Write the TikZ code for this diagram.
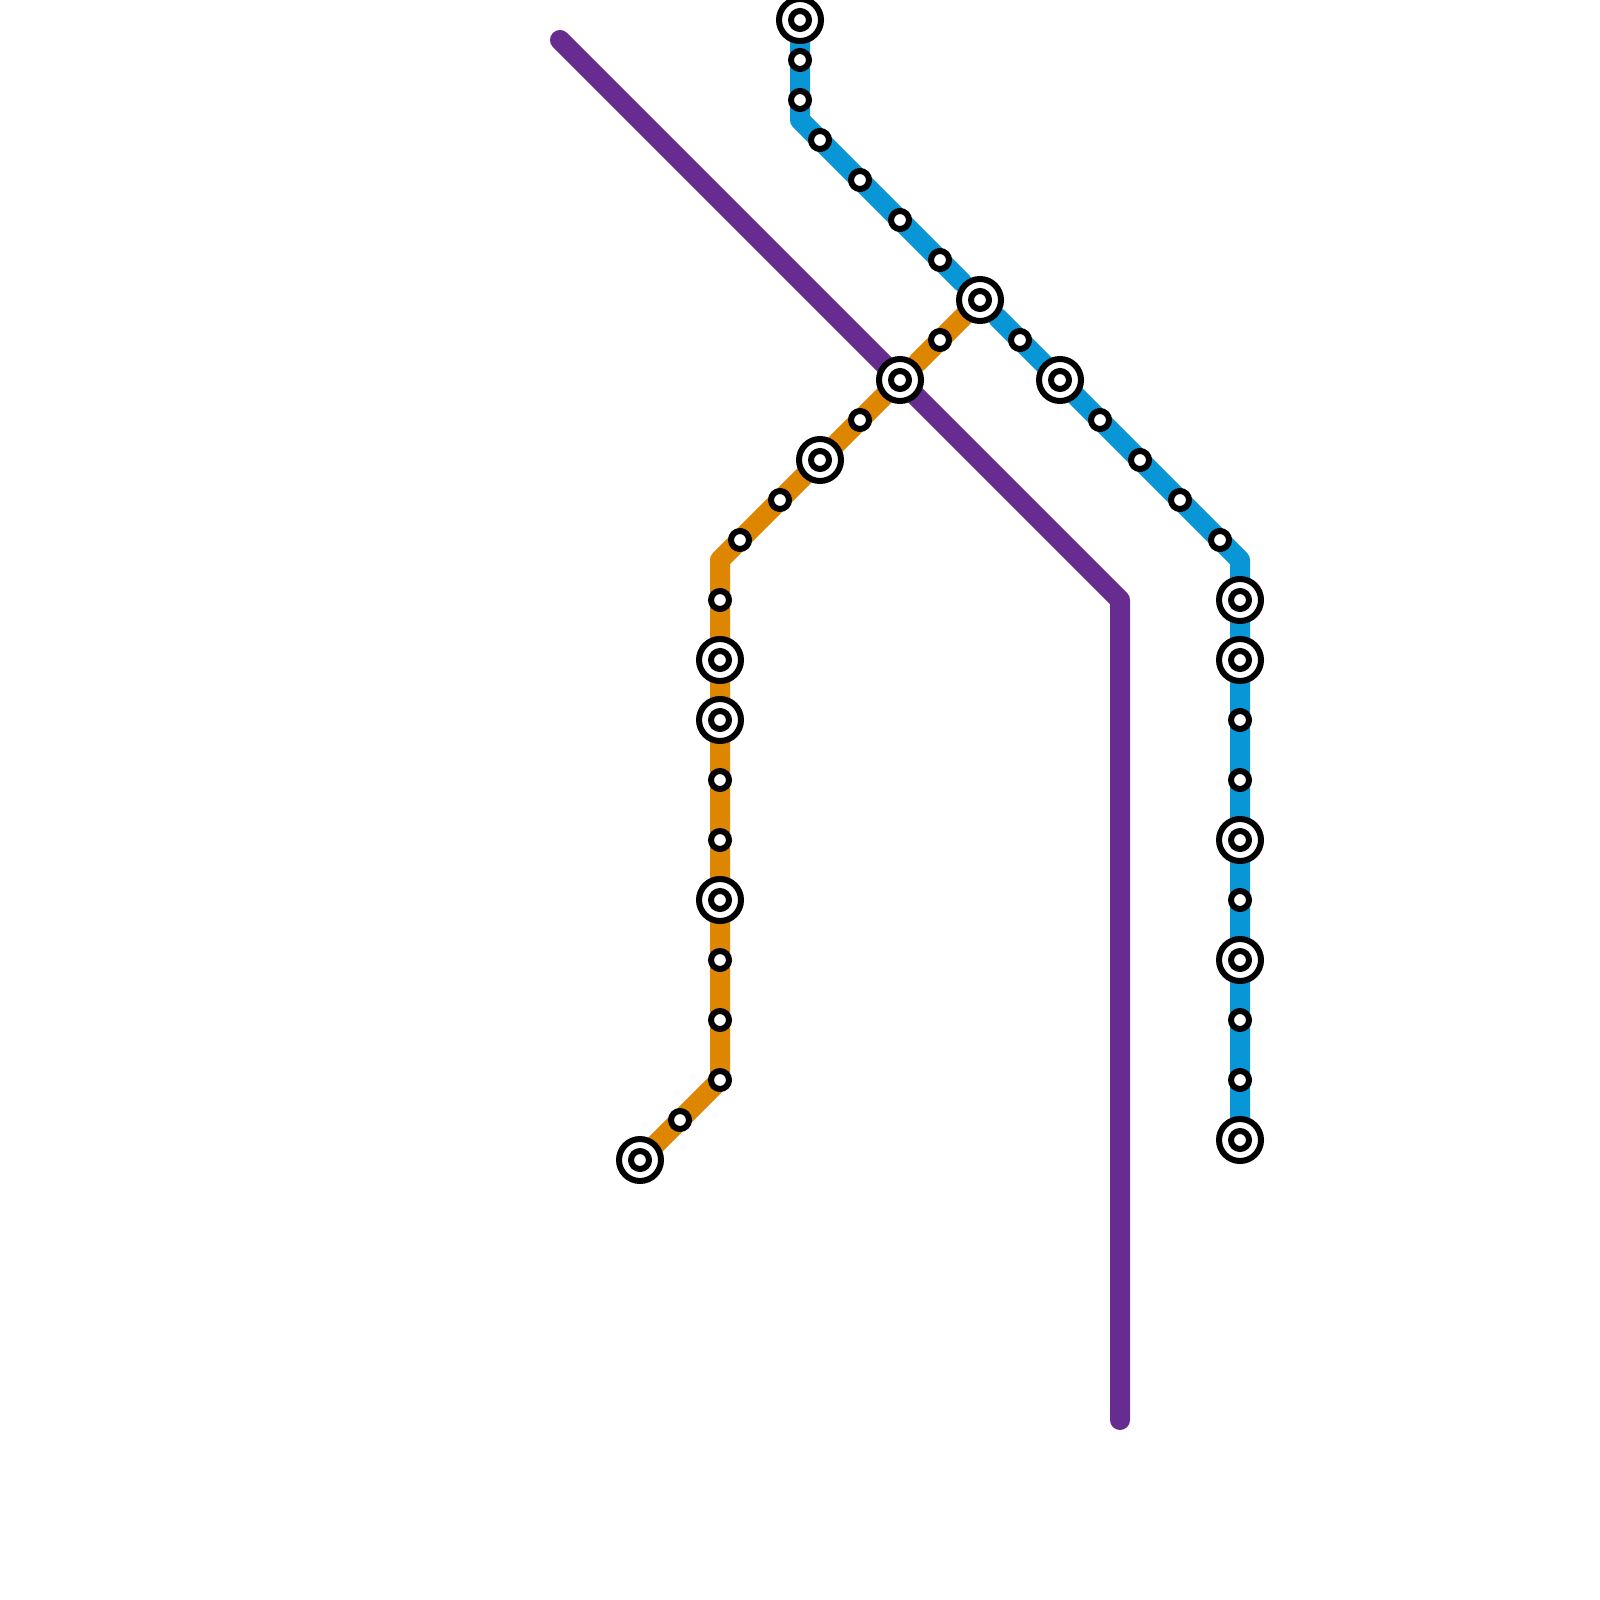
\documentclass[tikz,border=0pt]{standalone}
\usetikzlibrary{calc}
\definecolor{lineblue}{HTML}{0896D7}
\definecolor{lineorange}{HTML}{DF8600}
\definecolor{linepurple}{HTML}{662C90}
\pgfdeclarelayer{lines}
\pgfsetlayers{lines,main}
\tikzset{
  x=1pt,y=-1pt,
  ring/.style={circle,draw=black,fill=white,line width=6pt,inner sep=0pt,outer sep=0pt},
  stop/.style={ring,minimum size=18pt},
  hubring/.style={ring,minimum size=42pt},
  route/.style={line width=20pt,line join=round,line cap=round},
  hub/.style={hubring,append after command={
     node[stop] at (\tikzlastnode.center) {}}},
}
\begin{document}
\begin{tikzpicture}
\useasboundingbox (0,0) rectangle (1600,1600);
% free ends and bends
\coordinate (pA) at (560,40);
\coordinate (pB) at (1120,600);
\coordinate (pC) at (1120,1420);
\coordinate (bB) at (800,120);
\coordinate (bC) at (1240,560);
\coordinate (oB) at (720,560);
% blue stations
\node[hub]  (b01) at (800,20) {};
\node[stop] (b02) at (800,60) {};
\node[stop] (b03) at (800,100) {};
\node[stop] (b04) at (820,140) {};
\node[stop] (b05) at (860,180) {};
\node[stop] (b06) at (900,220) {};
\node[stop] (b07) at (940,260) {};
\node[hub]  (x1)  at (980,300) {};
\node[stop] (b08) at (1020,340) {};
\node[hub]  (b09) at (1060,380) {};
\node[stop] (b10) at (1100,420) {};
\node[stop] (b11) at (1140,460) {};
\node[stop] (b12) at (1180,500) {};
\node[stop] (b13) at (1220,540) {};
\node[hub]  (b14) at (1240,600) {};
\node[hub]  (b15) at (1240,660) {};
\node[stop] (b16) at (1240,720) {};
\node[stop] (b17) at (1240,780) {};
\node[hub]  (b18) at (1240,840) {};
\node[stop] (b19) at (1240,900) {};
\node[hub]  (b20) at (1240,960) {};
\node[stop] (b21) at (1240,1020) {};
\node[stop] (b22) at (1240,1080) {};
\node[hub]  (b23) at (1240,1140) {};
% orange stations
\node[hub]  (o01) at (640,1160) {};
\node[stop] (o02) at (680,1120) {};
\node[stop] (o03) at (720,1080) {};
\node[stop] (o04) at (720,1020) {};
\node[stop] (o05) at (720,960) {};
\node[hub]  (o06) at (720,900) {};
\node[stop] (o07) at (720,840) {};
\node[stop] (o08) at (720,780) {};
\node[hub]  (o09) at (720,720) {};
\node[hub]  (o10) at (720,660) {};
\node[stop] (o11) at (720,600) {};
\node[stop] (o12) at (740,540) {};
\node[stop] (o13) at (780,500) {};
\node[hub]  (o14) at (820,460) {};
\node[stop] (o15) at (860,420) {};
\node[hub]  (x2)  at (900,380) {};
\node[stop] (o16) at (940,340) {};
% segment ends that stop just short of a hub
\coordinate (bE1) at ($(x1.center)!25pt!(b07.center)$);
\coordinate (bE2) at ($(x1.center)!25pt!(b08.center)$);
\coordinate (oE1) at ($(x2.center)!25pt!(o16.center)$);
% routes
\begin{pgfonlayer}{lines}
\fill[white] (0,0) rectangle (1600,1600);
\draw[route,linepurple] (pA) -- (pB) -- (pC);
\draw[route,lineblue] (b01.center) -- (bB) -- (bE1);
\draw[route,lineblue] (bE2) -- (bC) -- (b23.center);
\draw[route,lineorange] (o01.center) -- (o03.center) -- (oB) -- (x2.center);
\draw[route,lineorange] (oE1) -- (x1.center);
\end{pgfonlayer}
\end{tikzpicture}
\end{document}
